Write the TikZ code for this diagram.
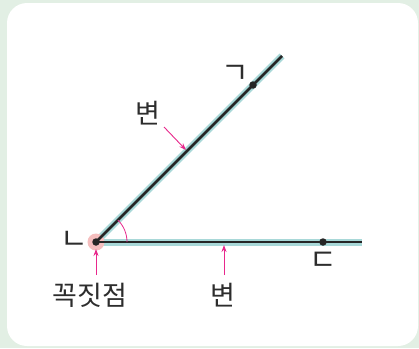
\documentclass[tikz,border=0pt]{standalone}
\usepackage{fontspec}
\newfontfamily\kfont{Noto Sans CJK KR}
\usetikzlibrary{arrows.meta}
\definecolor{bggreen}{RGB}{226,239,228}
\definecolor{teal1}{RGB}{168,216,216}
\definecolor{pinkarrow}{RGB}{232,40,140}
\definecolor{vpink}{RGB}{245,190,190}
\definecolor{txt}{RGB}{45,45,45}
\tikzset{
  band/.style={teal1, line width=7pt},
  ray/.style={black!85, line width=2.5pt},
  dotpt/.style={circle, fill=black!85, inner sep=0pt, minimum size=7.5pt},
  lbl/.style={text=txt, font=\kfont\fontsize{27}{27}\selectfont, inner sep=0pt},
  jamo/.style={text=txt, font=\kfont\fontsize{30}{30}\selectfont, inner sep=0pt},
  parrow/.style={pinkarrow, line width=0.9pt, -{Stealth[length=7pt,width=5pt]}},
}
\begin{document}
\begin{tikzpicture}[x=1pt,y=-1pt]
\path[use as bounding box, fill=bggreen] (0,0) rectangle (419,348);
\fill[white, rounded corners=20pt] (7,3) rectangle (418,346);
% coordinates
\coordinate (V) at (96,242);
\coordinate (E1) at (282,56);
\coordinate (E2) at (362,242);
\coordinate (A) at (253,85);
\coordinate (C) at (323,242);
% bands
\draw[band] (V) -- (E1);
\draw[band] (V) -- (E2);
\fill[vpink] (V) circle (8.5pt);
\draw[ray] (V) -- (E1);
\draw[ray] (V) -- (E2);
% angle arc
\draw[pinkarrow, line width=0.8pt] ([xshift=31pt]V) arc[start angle=0, end angle=45, radius=31pt];
% points
\node[dotpt] (pV) at (V) {};
\node[dotpt] (pA) at (A) {};
\node[dotpt] (pC) at (C) {};
% jamo labels
\node[jamo] (lN) at (74,240) {ㄴ};
\node[jamo] (lG) at (235,74) {ㄱ};
\node[jamo] (lD) at (323,261) {ㄷ};
% text labels
\node[lbl] (s1) at (148,113) {변};
\node[lbl] (s2) at (223,295) {변};
\node[lbl] (vx) at (90,295) {꼭짓점};
% arrows
\coordinate (t1) at (186,150);
\coordinate (t2) at (224,245);
\coordinate (t3) at (96,249);
\draw[parrow] (164,127) -- (t1);
\draw[parrow] (224,275) -- (t2);
\draw[parrow] (96,275) -- (t3);
\end{tikzpicture}
\end{document}
